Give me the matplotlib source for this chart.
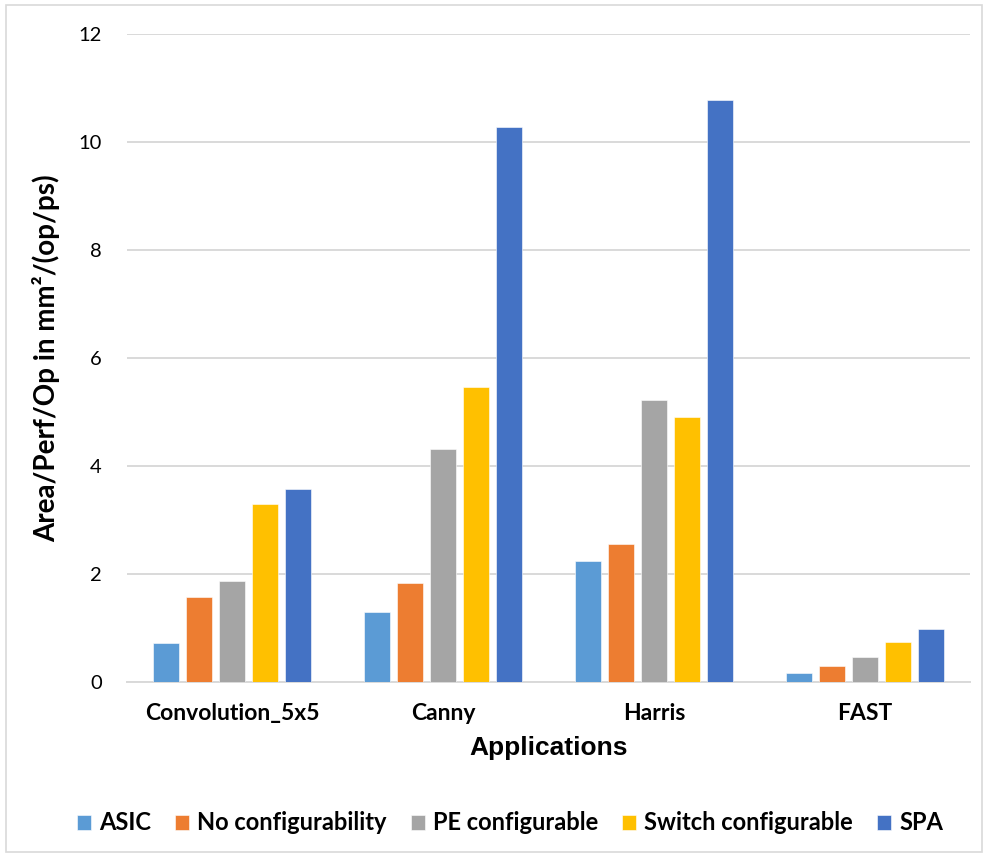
import numpy as np
import matplotlib
matplotlib.use("Agg")
import matplotlib.pyplot as plt
from matplotlib.patches import Rectangle

# area/perf/op per application, one list per architecture
applications = ["Convolution_5x5", "Canny", "Harris", "FAST"]
series_names = ["ASIC", "No configurability", "PE configurable", "Switch configurable", "SPA"]
asic = [0.73, 1.30, 2.25, 0.16]
no_config = [1.57, 1.84, 2.56, 0.30]
pe_config = [1.87, 4.31, 5.22, 0.46]
switch_config = [3.30, 5.47, 4.91, 0.74]
spa = [3.57, 10.27, 10.78, 0.98]
yticks = [0, 2, 4, 6, 8, 10, 12]

colors = ["#5B9BD5", "#ED7D31", "#A5A5A5", "#FFC000", "#4472C4"]
series = [asic, no_config, pe_config, switch_config, spa]

fig = plt.figure(figsize=(9.86, 8.6), dpi=100)
ax = fig.add_axes([127 / 986, 1 - 682 / 860, (970 - 127) / 986, (682 - 34) / 860])

x = np.arange(len(applications))
pitch = 0.1566
width = 0.123
for i, (name, vals, c) in enumerate(zip(series_names, series, colors)):
    ax.bar(x + (i - 2) * pitch, vals, width, color=c, label=name,
           edgecolor="white", linewidth=0.4, zorder=3)

ax.set_xlim(-0.5, len(applications) - 0.5)
ax.set_ylim(0, 12)
ax.set_yticks(yticks)
ax.set_yticklabels([str(t) for t in yticks], fontfamily="Lato", fontsize=14.5)
ax.set_xticks(x)
ax.set_xticklabels(applications, fontfamily="Lato", fontweight="bold", fontsize=16.5)
ax.tick_params(axis="y", length=0, pad=18)
ax.tick_params(axis="x", length=0, pad=15)
ax.grid(axis="y", color="#D9D9D9", linewidth=1.4, zorder=0)
for s in ["top", "right", "left"]:
    ax.spines[s].set_visible(False)
ax.spines["bottom"].set_color("#D9D9D9")
ax.spines["bottom"].set_linewidth(1.4)

ax.set_xlabel("Applications", fontfamily="Liberation Sans", fontweight="bold",
              fontsize=19, labelpad=9)
ax.set_ylabel("Area/Perf/Op in mm²/(op/ps)", fontfamily="Lato",
              fontweight="bold", fontsize=20)
ax.yaxis.set_label_coords(-0.079, 0.5)

leg = fig.legend(loc="center", bbox_to_anchor=(510 / 986, 1 - 823 / 860), ncol=5,
                 frameon=False, handlelength=0.6, handleheight=0.6, handletextpad=0.35,
                 columnspacing=1.0, prop={"family": "Lato", "weight": "bold", "size": 17})

# light border round the whole chart
fig.patches.append(Rectangle((6 / 986, 1 - 852 / 860), 976 / 986, 847 / 860,
                             transform=fig.transFigure, fill=False,
                             edgecolor="#D9D9D9", linewidth=1.2))

fig.savefig("out.png", dpi=100)
